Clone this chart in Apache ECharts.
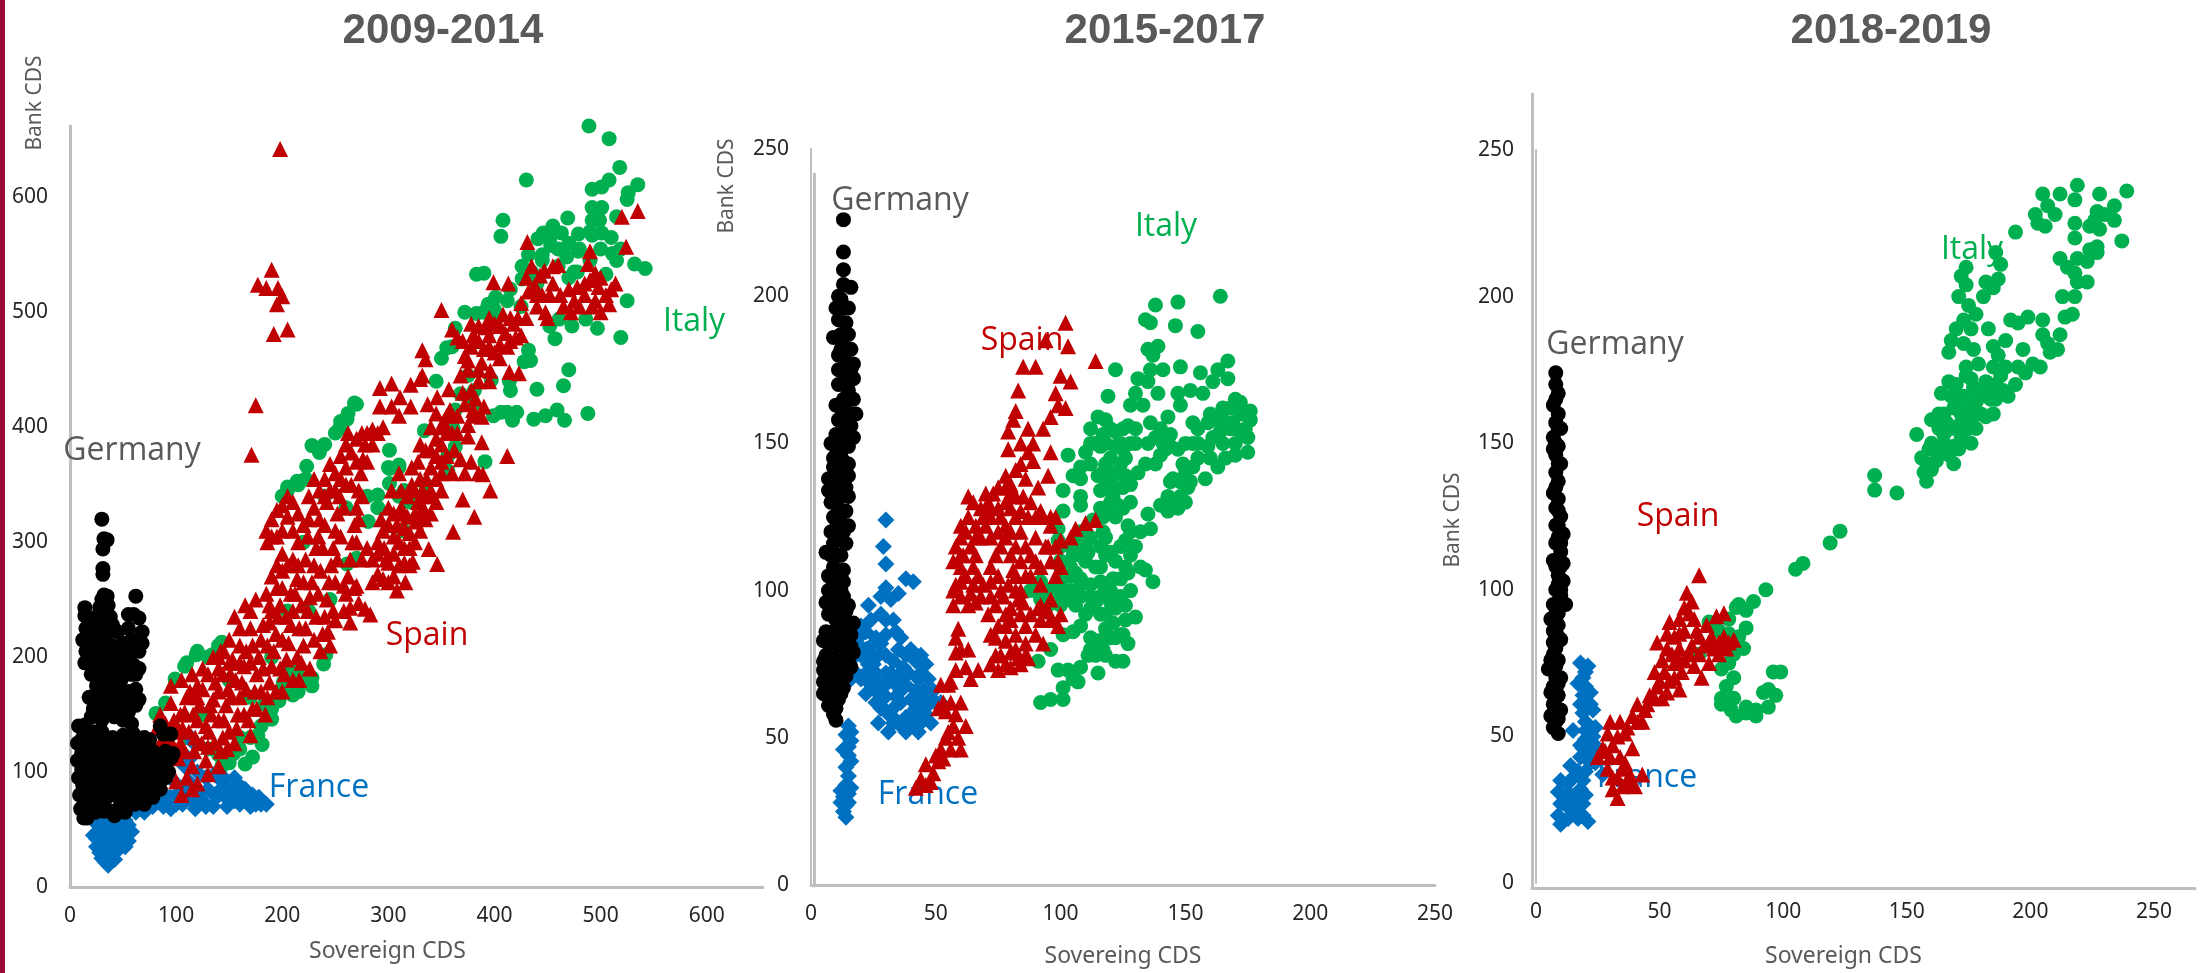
<!DOCTYPE html>
<html><head><meta charset="utf-8">
<style>html,body{margin:0;padding:0;background:#fff}#c{width:2205px;height:973px}</style>
<script src="https://cdn.jsdelivr.net/npm/echarts@6/dist/echarts.min.js"></script>
</head><body><div id="c"></div>
<script>
const titles=["2009-2014","2015-2017","2018-2019"];
const xNames=["Sovereign CDS","Sovereing CDS","Sovereign CDS"];
const yName="Bank CDS";
const seriesNames=["Italy","France","Spain","Germany"];
const italyA=[489,662,508,651,518,626,430,615,508,615,492,607,501,609,535,611,526,604,525,598,515,583,408,580,406,566,492,591,501,591,492,580,499,580,469,582,455,575,446,569,441,564,463,569,452,564,479,568,492,567,501,569,432,550,453,558,468,548,479,553,511,551,519,555,532,542,542,538,505,533,383,533,390,534,426,540,426,529,525,510,519,478,497,486,473,488,457,477,452,488,461,494,486,494,470,450,465,436,440,433,488,412,466,406,459,415,448,410,437,407,421,413,412,413,399,410,406,413,417,406,432,467,428,457,434,458,414,440,415,432,397,441,391,370,372,500,383,499,394,507,401,513,412,510,363,486,350,460,355,469,368,429,381,432,363,415,361,399,363,383,356,375,356,362,334,397,268,421,261,407,254,399,301,380,228,384,223,366,205,348,214,353,310,367,301,364,301,351,290,341,281,318,314,310,270,286,261,281,241,202,239,194,228,182,228,175,214,188,201,178,210,167,197,162,190,146,183,159,177,132,181,124,172,113,165,107,154,116,143,105,119,202,108,192,99,181,81,151,134,202,143,213,445,550,460,540,475,535,440,525,415,520,425,505,400,495,360,470,375,445,380,420,345,440,335,350,315,345,280,340,260,330,240,340,220,300,245,250,225,240,205,240,190,200,170,165,150,180,125,150,90,160,110,130,130,120,160,130];
const italyA2=[470,560,480,555,460,555,445,545,435,535,470,530,490,570,510,565,515,545,500,555,490,545,478,535,400,502,390,500,200,170,205,185,190,155,180,140,170,130,160,120,150,108,140,115,215,170,220,180,100,180,110,195,120,205,130,200,140,210,200,340,205,345,215,350,222,355,235,378,240,385,250,395,255,405,262,412,270,420,300,365,310,365,310,340,320,335,290,330];
const franceA=[36,19,30,25,42,24,25,35,35,32,45,32,52,35,55,40,22,45,30,42,40,42,50,48,58,48,25,55,35,52,45,55,52,58,20,60,28,62,40,60,50,62,60,70,70,65,78,70,85,75,95,68,100,72,110,80,118,68,125,75,130,85,135,70,140,80,143,92,148,70,150,85,155,95,160,72,165,85,170,70,172,80,175,72,178,78,185,72,152,78,145,95,120,85,112,92,105,85,90,80,112,132,112,111,116,126,105,118];
const franceA2=[30,35,28,30,38,28,33,22,40,35,48,40,25,42,35,38,42,50,32,48,30,55,38,58,55,54,48,60,35,65,25,65,62,65,75,72,88,70,100,80,106,72,115,75,122,82,128,70,138,78,142,85,150,75,158,82,168,78,120,100,128,95,136,98,108,105,100,90,95,78,160,88,155,75,165,75,180,72,145,85];
const spainA=[431,561,520,583,535,588,524,557,490,553,514,525,488,542,399,526,413,525,350,502,332,467,335,459,430,530,438,523,443,532,447,536,455,540,460,541,445,515,440,505,452,515,465,505,470,520,478,522,485,515,490,528,495,534,500,530,505,515,495,510,480,505,492,505,500,500,508,507,472,500,432,518,425,508,448,500,378,490,385,488,392,487,400,490,405,488,410,482,418,490,422,495,425,480,415,475,405,472,395,480,385,475,378,470,372,462,365,478,360,485,390,468,400,465,412,470,420,478,423,447,414,448,396,449,388,456,368,445,357,433,346,426,375,450,385,440,378,432,382,425,390,418,292,434,303,438,311,426,321,437,330,442,332,445,292,418,303,418,310,410,321,418,337,420,198,642,190,537,177,524,185,521,196,521,200,514,195,507,192,481,205,485,175,419,171,376,78,125,82,138,85,150,88,118,92,130,95,160,98,145,102,112,104,125,106,138,108,152,110,165,113,170,115,105,117,118,118,130,120,145,122,158,125,172,128,110,130,122,131,135,133,150,135,163,137,178,140,190,142,118,144,130,145,145,147,158,149,172,151,185,153,198,155,125,157,138,158,150,160,165,162,178,164,192,166,205,168,145,170,132,172,155,174,170,176,185,178,200,180,215,182,228,184,150,186,165,188,178,190,192,192,205,194,220,196,235,198,245,200,170,202,185,204,198,206,212,208,228,210,240,212,255,214,268,216,180,218,195,220,210,222,225,224,240,226,252,228,265,230,280,232,295,234,305,190,320,195,328,200,332,205,322,210,310,215,300,220,315,195,305,200,290,185,310,186,300,210,335,236,205,238,220,240,235,242,250,244,265,246,280,248,295,250,310,252,325,254,340,225,340,230,330,235,345,240,355,245,368,250,360,255,375,260,385,235,320,258,240,260,255,262,270,264,285,266,300,268,315,270,330,272,345,274,360,276,372,278,385,265,378,270,390,280,395,285,398,290,395,295,400,255,355,260,350,243,222,264,230,264,243,283,237,272,247,278,242,250,232,258,262,270,262,275,285,280,295,285,265,290,272,295,268,300,265,305,270,310,280,315,282,300,282,290,290,296,295,308,258,316,265,320,280,323,283,338,294,346,281,290,300,295,310,300,315,305,305,310,300,315,312,320,308,325,300,330,310,335,320,340,325,345,335,350,345,305,325,312,330,318,340,322,350,328,335,332,345,336,355,340,365,345,375,350,385,355,395,318,322,326,318,334,328,342,340,350,360,345,390,335,380,328,370,322,365,312,345,310,360,303,345,340,400,345,412,352,405,358,415,362,380,368,372,372,360,378,370,385,360,370,337,361,309,381,322,396,345,389,359,412,375,388,387,388,409,375,392,365,395,372,420,380,410,90,100,100,92,110,95,120,90,130,98,140,105,115,85,105,80,85,92];
const spainA2=[85,125,90,142,96,125,100,135,104,150,108,118,112,135,116,150,120,165,124,125,128,140,132,158,136,125,140,145,140,170,144,185,148,120,150,135,152,165,156,180,160,195,164,150,166,172,170,195,172,210,176,155,180,170,182,190,186,210,188,230,190,240,194,170,198,190,200,215,204,235,208,255,210,180,214,200,216,225,218,245,220,265,222,285,224,305,226,190,230,215,232,235,234,255,236,275,238,295,240,315,242,335,245,210,248,240,250,265,252,285,255,305,258,330,260,365,265,350,268,260,270,300,272,320,275,340,280,370,285,385,200,310,205,340,190,305,215,325,225,320,230,355,240,340,245,345,250,345,262,395,270,370,275,395,298,285,305,290,315,295,320,295,325,325,330,325,335,340,340,345,345,355,350,370,355,375,360,395,330,355,325,345,315,325,308,315,300,330,293,320,285,285,355,410,365,410,375,402,360,360,340,380,350,400,330,385,440,515,455,525,462,515,475,510,485,525,498,522,510,520,435,540,450,495,395,495,415,495,408,498,430,495,370,475,380,480,395,470,405,460,375,458,385,450,395,440,380,415,370,430];
const spainA3=[95,175,105,180,115,185,125,190,135,200,145,205,120,175,130,185,140,200,150,215,160,225,170,240,160,210,170,225,175,250,165,245,155,235,185,255,190,270,195,280,200,260,195,260,188,245,200,275,205,280,210,285,215,280,150,195,142,205];
const germanyA=[30,320,32,303,35,302,31,294,31,277,31,272,32,254,30,250,35,253,62,253,60,237,65,234,55,237,14,243,14,236,28,243,36,245,38,235,25,235,30,228,40,228,12,215,18,222,25,218,35,220,45,222,55,225,68,222,62,215,68,212,60,208,65,205,15,205,22,210,30,207,40,210,50,212,14,195,22,198,30,195,42,198,50,195,60,193,65,190,20,185,28,188,38,185,48,186,62,185,25,175,35,178,45,175,62,172,60,165,25,165,33,168,45,165,65,163,22,155,32,155,45,155,55,152,62,158,20,148,30,145,42,148,50,145,58,142,8,140,14,141,22,135,30,135,40,130,50,132,60,133,70,130,85,140,88,133,95,133,7,125,14,122,22,125,30,122,38,120,46,122,54,125,62,122,70,125,78,118,90,118,97,116,7,110,15,108,23,112,31,108,39,110,47,106,55,110,63,108,71,106,80,105,88,108,95,112,8,95,16,92,24,96,32,94,40,92,48,96,56,92,64,95,72,92,80,92,90,95,93,100,85,85,9,80,17,78,25,82,33,76,41,80,49,76,57,78,65,82,70,72,75,82,78,78,10,68,14,63,20,70,28,72,38,66,47,70,55,72,13,60];
const germanyA2=[12,130,18,130,26,128,34,128,45,128,56,128,65,128,75,128,11,116,18,116,26,116,34,116,42,115,50,116,58,116,66,116,74,114,84,115,11,102,19,100,27,102,35,100,43,102,51,100,59,102,67,100,75,98,85,100,12,88,20,85,28,88,36,85,44,86,52,85,60,85,68,87,76,88,13,72,22,76,30,80,37,84,45,82,53,84,61,72,16,60,15,70,24,65,32,66,42,62,52,65,18,165,28,155,35,200,38,170,26,205,20,195,25,190,40,190,45,205,55,200,58,215,58,185,35,160,38,150,30,180,15,225,20,215,22,230,32,240,33,212,28,200,48,180,52,160,55,170,50,150,26,150];
const italyB=[164,200,147,198,138,197,134,192,136,191,146,190,155,188,139,183,135,182,137,180,167,178,122,175,148,176,141,175,136,175,163,175,167,172,156,174,131,172,135,171,130,167,139,167,119,166,147,167,152,168,157,167,161,171,128,163,133,163,148,163,115,159,143,159,112,155,172,164,168,162,176,161,172,160,165,158,176,158,169,157,159,157,153,157,172,154,164,154,175,147,170,146,161,152,165,150,153,150,159,149,163,142,158,138,153,142,149,143,144,149,140,146,136,157,140,155,144,153,147,148,134,143,131,140,128,136,151,135,148,132,143,132,140,129,147,128,143,127,117,153,122,154,127,156,116,149,122,149,118,143,124,143,115,139,120,138,126,139,116,134,121,132,118,128,123,129,103,146,110,147,108,142,112,143,105,139,108,138,101,134,108,132,108,129,101,127,135,126,136,121,127,122,132,120,99,121,117,120,106,117,126,117,99,117,120,113,128,112,111,113,105,112,116,108,134,107,127,106,137,103,121,104,88,100,92,103,96,100,100,103,104,100,108,104,112,102,116,98,120,96,124,98,128,100,92,97,98,96,103,97,108,98,114,96,100,108,106,106,110,110,112,118,108,120,113,124,118,100,126,90,130,91,121,89,108,88,105,86,101,85,96,80,91,76,127,82,122,84,117,80,114,78,122,76,125,76,111,78,108,74,103,73,99,73,115,72,105,70,101,67,107,69,101,63,96,63,92,62,124,85,118,87,112,84];
const italyB2=[118,150,120,145,125,148,117,140,122,140,120,130,118,135,123,135,125,128,112,150,120,155,124,150,128,150,130,155,126,145,116,128,160,160,170,165,174,155,168,155,162,158,170,150,166,145,155,155,155,145,150,140,145,138,142,148,150,130,145,130,138,152,141,150,100,100,104,105,108,102,112,98,116,103,120,100,124,104,126,108,122,110,118,112,114,108,110,115,108,112,104,108,126,95,122,94,118,92,112,94,125,85,120,84,115,83,118,78,112,80];
const italyB3=[114,150,118,158,125,155,130,150,125,135,128,130,117,125,122,125,128,120,124,115,130,115,132,108,95,95,100,95,106,95,110,92,116,92,100,110,104,115,108,115,116,115,118,118,100,115,150,150,155,150,160,145,165,162,170,155,175,152,148,137,152,137,144,137,138,143,135,150];
const franceB=[14,23,13,25,14,27,12,28,15,28,13,30,15,31,12,32,16,33,14,34,15,37,14,40,16,42,15,44,13,46,15,47,16,49,14,51,16,52,15,54,17,72,18,78,19,84,20,88,22,86,24,90,21,80,23,75,25,70,27,65,29,60,27,55,31,52,28,82,30,78,32,72,34,68,36,62,38,57,36,54,41,54,44,55,26,72,28,68,30,64,33,60,36,72,38,68,40,63,42,60,44,62,46,58,45,66,48,62,50,62,52,62,47,70,44,72,46,75,42,76,40,80,38,78,35,80,20,70,22,65,24,78,26,84,30,85,30,90,28,92,23,95,33,90,34,86,35,99,30,101,28,98,38,104,41,103,30,109,29,115,30,124,32,97];
const franceB2=[18,85,22,80,25,82,27,78,22,72,24,68,26,62,30,72,33,76,35,70,37,74,34,64,31,58,34,56,40,58,43,58,47,62,49,66,42,66,39,72,43,70,30,68,36,66,25,75,18,72,20,78,16,70,28,60,33,55,38,52,43,52,48,55,44,78,36,84];
const spainB=[42,33,46,34,49,38,46,41,51,42,52,46,54,50,57,54,62,54,59,50,56,46,54,59,55,68,52,68,56,69,58,73,62,74,58,79,63,80,58,84,59,87,67,73,75,73,80,74,84,75,87,77,72,75,76,78,80,79,83,77,86,82,72,85,75,88,78,83,82,85,86,88,90,85,93,82,96,90,99,88,92,90,95,93,57,95,60,98,63,95,66,96,68,98,58,102,62,105,65,102,60,108,71,92,74,95,77,98,80,94,78,92,83,97,72,98,76,100,92,95,96,97,94,93,100,92,57,110,58,115,60,118,60,112,62,120,64,115,66,112,68,118,70,122,72,118,66,122,68,128,70,133,63,132,65,130,73,133,75,135,78,130,76,125,80,128,82,125,84,120,78,118,74,112,80,112,76,115,84,110,72,108,88,112,90,118,93,125,96,122,98,125,92,108,96,110,100,108,88,105,84,100,86,105,92,102,78,139,82,141,84,143,80,136,86,138,89,144,87,147,89,150,87,155,84,150,79,148,79,154,82,161,81,158,83,168,85,176,90,176,96,147,95,139,91,135,92,127,96,125,93,155,96,159,99,163,102,162,98,167,100,173,104,171,103,183,102,191,94,185,114,178,114,124,110,123,106,121,104,118,99,110,95,115];
const spainB2=[44,36,48,35,50,44,53,43,55,52,58,58,56,62,53,62,51,60,60,62,60,46,64,70,60,80,74,78,78,75,82,80,86,78,74,84,78,88,80,90,84,92,88,92,91,94,85,96,82,100,57,100,60,103,64,99,61,112,65,108,67,105,69,102,72,103,75,105,79,102,81,107,60,122,63,125,66,118,69,125,72,128,75,120,78,122,80,120,82,115,86,115,72,125,75,128,78,135,71,130,80,133,84,127,87,125,90,110,94,115,98,115,100,117,82,132,85,132,88,130,90,125,98,105,82,105];
const germanyB=[13,226,13,215,13,209,13,204,16,203,11,200,12,199,13,196,11,192,14,191,9,186,12,187,15,187,16,182,12,182,14,178,17,177,11,175,14,173,17,172,11,170,15,168,13,165,17,165,10,163,14,161,18,160,11,158,16,156,13,154,17,152,8,150,11,150,15,149,10,146,13,144,15,143,9,142,12,140,15,139,7,138,10,136,14,135,7,134,12,132,8,130,11,128,14,127,9,125,12,123,15,122,8,120,11,118,14,116,6,113,8,112,12,112,9,108,13,107,7,105,10,104,13,103,7,100,10,99,13,98,8,96,11,95,14,93,7,92,10,90,13,89,17,89,6,86,9,86,12,85,15,84,5,83,8,82,11,81,14,80,17,79,6,78,9,77,12,76,15,76,5,73,8,72,11,72,14,71,5,69,8,68,11,67,13,67,5,65,8,64,11,63,7,61,10,60,9,58,10,56];
const germanyB2=[10,196,15,196,13,186,11,180,16,175,13,170,12,162,16,160,14,156,10,153,13,150,12,147,9,145,13,138,11,134,8,135,15,132,10,124,13,120,9,116,11,112,9,102,12,100,8,100,15,95,6,96,8,92,12,92,10,85,14,88,7,82,13,82,16,85,8,75,13,74,16,74,7,72,10,70,6,75,5,76,12,65,9,66,7,65,16,81];
const italyC=[239,236,219,238,212,235,205,235,228,235,218,233,234,231,207,231,210,228,202,228,203,225,206,224,194,222,227,229,230,228,234,226,226,226,218,225,224,224,228,223,218,220,237,219,227,217,224,216,186,215,212,213,219,213,227,215,223,212,188,211,215,210,174,210,172,207,187,206,182,205,218,208,219,205,223,205,174,204,185,203,181,200,171,200,213,200,218,200,175,197,178,194,217,194,214,193,192,192,199,193,205,192,195,191,173,192,170,189,176,189,183,189,212,187,205,187,168,185,190,185,207,184,211,182,208,181,167,181,173,184,177,182,197,182,185,183,187,180,174,176,179,177,201,177,204,176,195,176,198,174,185,176,190,176,167,171,164,167,174,173,177,169,182,171,188,173,194,170,191,166,186,165,180,166,173,166,169,162,175,162,182,159,163,160,160,158,166,157,171,156,178,155,163,155,154,153,159,148,164,149,169,149,176,150,171,148,156,145,162,144,169,143,157,140,160,141,158,137,165,153,173,158,178,164,168,166,184,169,189,168,137,139,137,134,146,133,123,120,119,116,108,109,105,107,93,100,88,96,82,95,81,94,85,93,78,90,85,87,82,84,84,80,80,78,78,75,75,73,80,70,77,67,96,72,99,72,94,66,92,65,97,64,94,60,89,59,85,60,85,58,89,57,81,57,79,59,75,63,80,63,75,61,70,89,74,86,78,85,66,78];
const italyC2=[170,165,172,160,176,158,180,160,184,165,178,168,170,170,176,172,182,166,186,170,165,160,168,155,172,152,165,150,160,150,162,147,158,143,167,146,175,155,172,165,185,160];
const franceC=[18,75,21,74,20,67,22,65,18,61,23,59,20,55,24,53,15,52,20,49,25,46,18,43,22,41,27,37,17,38,14,40,10,35,9,31,13,34,18,32,10,27,14,25,19,27,10,20,21,21,9,23,17,22,13,22,19,23,20,72,17,68,22,61,19,58,22,48,19,46,24,41];
const franceC2=[19,70,19,64,21,60,20,52,18,47,21,44,23,50,20,38,16,30,14,30,19,35,17,27,12,28,11,30,15,36,16,24,20,30,23,45];
const spainC=[66,105,61,99,63,96,60,94,54,89,58,90,76,92,73,91,69,88,49,82,53,85,56,84,60,86,65,86,71,84,76,84,80,83,53,80,58,80,63,81,68,81,72,80,77,80,56,75,60,76,70,75,67,70,48,72,59,72,54,69,49,67,46,64,58,66,51,63,41,61,45,61,39,57,43,55,30,55,34,55,29,51,37,53,27,46,25,43,30,43,39,46,34,43,29,39,35,39,43,37,39,34,31,32,35,33,33,29,40,33];
const spainC2=[62,92,58,85,64,90,66,84,70,82,74,82,78,82,62,78,66,78,74,78,64,74,58,76,55,78,51,76,52,72,56,70,50,69,53,65,48,63,44,59,41,55,36,51,33,50,31,47,28,45,36,41,38,37,33,36,37,35,31,36];
const germanyC=[8,174,8,170,9,167,7,163,9,160,8,157,10,155,7,152,9,149,8,146,10,143,8,140,9,137,7,133,9,131,8,128,10,125,9,122,11,119,8,116,10,113,7,110,11,109,9,105,11,103,8,100,10,98,7,95,12,95,9,92,6,90,9,88,7,86,10,83,8,80,9,76,5,73,8,74,10,70,7,67,9,64,7,61,10,59,6,57,8,55,7,53,9,51];
const germanyC2=[8,165,9,155,8,150,7,148,9,143,8,135,9,127,8,122,9,118,10,116,10,108,8,108,9,102,10,95,9,96,8,92,8,85,7,82,9,84,7,78,6,76,8,70,9,68,6,65,8,60,9,56,7,58,10,100];

const pairs=f=>{const o=[];for(let i=0;i<f.length;i+=2)o.push([f[i],f[i+1]]);return o;};
const RED="#c00000",GREEN="#00b050",BLUE="#0070c0",BLACK="#000000",GREY="#595959",AX="#bfbfbf";
const panels=[
 {g:{left:70,width:693,top:126,height:761},xMax:653,yMax:662,xI:100,yI:100,d:[italyA.concat(italyA2),franceA.concat(franceA2),spainA.concat(spainA2,spainA3),germanyA.concat(germanyA2)]},
 {g:{left:811,width:624,top:149,height:737},xMax:250,yMax:250,xI:50,yI:50,d:[italyB.concat(italyB2,italyB3),franceB.concat(franceB2),spainB.concat(spainB2),germanyB.concat(germanyB2)]},
 {g:{left:1536,width:659,top:150,height:738},xMax:266.6,yMax:250,xI:50,yI:50,d:[italyC.concat(italyC2),franceC.concat(franceC2),spainC.concat(spainC2),germanyC.concat(germanyC2)]}
];
const colors=[GREEN,BLUE,RED,BLACK],symbols=["circle","diamond","triangle","circle"],sizes=[15,17,16,15];
const font="'Noto Sans',sans-serif";
const grid=[],xAxis=[],yAxis=[],series=[];
panels.forEach((p,i)=>{
 grid.push(p.g);
 xAxis.push({type:"value",gridIndex:i,min:0,max:p.xMax,interval:p.xI,name:xNames[i],nameLocation:"middle",nameGap:[53,60,62][i],
  nameTextStyle:{color:GREY,fontSize:23,fontFamily:font,padding:[0,[58,0,44][i],0,0]},splitLine:{show:false},axisTick:{show:false},
  axisLine:{show:i!==2,onZero:false,lineStyle:{color:AX,width:3}},
  axisLabel:{color:"#262626",fontSize:21,fontFamily:font,margin:19,showMaxLabel:i===1}});
 yAxis.push({type:"value",gridIndex:i,min:0,max:p.yMax,interval:p.yI,splitLine:{show:false},axisTick:{show:false},
  axisLine:{show:true,onZero:false,lineStyle:{color:AX,width:i===0?3:2}},
  axisLabel:{color:"#262626",fontSize:21,fontFamily:font,margin:22,padding:[4,0,0,0],showMaxLabel:i!==0}});
 p.d.forEach((a,k)=>series.push({type:"scatter",name:seriesNames[k],xAxisIndex:i,yAxisIndex:i,data:pairs(a),symbol:symbols[k],symbolSize:sizes[k],itemStyle:{color:colors[k],opacity:1},silent:true,animation:false}));
});
// second, older axis frames visible in the original panels
[{left:814,width:621,top:174,height:712,x:false},{left:1532,width:663,top:94,height:794,x:true}].forEach((g,j)=>{
 const idx=3+j;
 grid.push({left:g.left,width:g.width,top:g.top,height:g.height});
 xAxis.push({type:"value",gridIndex:idx,min:0,max:1,show:g.x,axisLabel:{show:false},axisTick:{show:false},splitLine:{show:false},axisLine:{show:true,onZero:false,lineStyle:{color:AX,width:3}}});
 yAxis.push({type:"value",gridIndex:idx,min:0,max:1,axisLabel:{show:false},axisTick:{show:false},splitLine:{show:false},axisLine:{show:true,onZero:false,lineStyle:{color:AX,width:3}}});
});
const vtxt=(x,y)=>({type:"text",x:x,y:y,rotation:Math.PI/2,z:1,style:{text:yName,fill:GREY,font:"21px 'Noto Sans',sans-serif",align:"center",verticalAlign:"middle"}});
const pl=(s,x,y,c)=>({type:"text",x:x,y:y,z:1,style:{text:s,fill:c,font:"32px 'Open Sans',sans-serif",align:"center",verticalAlign:"middle"}});
const graphic=[
 {type:"rect",shape:{x:0,y:0,width:5,height:973},style:{fill:"#9b0a36"},z:1},
 vtxt(35,103),vtxt(727,186),vtxt(1453,520),
 pl("Germany",132,451,GREY),pl("Italy",694,322,GREEN),pl("Spain",427,636,RED),pl("France",319,788,BLUE),
 pl("Germany",900,201,GREY),pl("Italy",1166,227,GREEN),pl("Spain",1022,341,RED),pl("France",928,795,BLUE),
 pl("Germany",1615,345,GREY),pl("Italy",1972,250,GREEN),pl("Spain",1678,517,RED),pl("France",1647,778,BLUE)
];
const title=titles.map((t,i)=>({text:t,left:[438,1160,1886][i],top:5,textAlign:"center",textStyle:{color:GREY,fontSize:42,fontWeight:"bold",fontFamily:"'Liberation Sans',Arial,sans-serif"}}));
const chart=echarts.init(document.getElementById("c"),null,{renderer:"canvas",width:2205,height:973});
chart.setOption({animation:false,backgroundColor:"#fff",title,grid,xAxis,yAxis,series,graphic});
</script></body></html>
